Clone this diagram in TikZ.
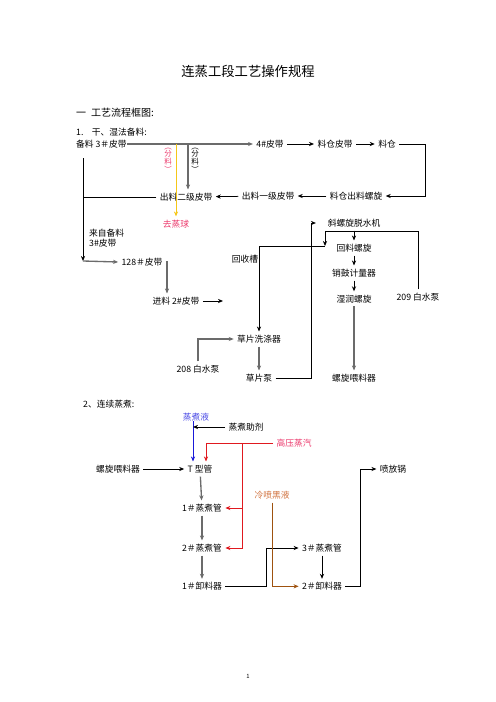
\documentclass[tikz,border=0pt]{standalone}
\usepackage{fontspec}
\setmainfont{Noto Sans CJK SC}
\usetikzlibrary{arrows.meta, positioning}

\begin{document}
\begin{tikzpicture}[x=1.2pt, y=-1.2pt, node distance=30pt, >={Stealth[length=6pt, width=5pt]}]

\definecolor{arrowcolor}{rgb}{0.42, 0.42, 0.42}
\definecolor{steamred}{rgb}{0.88, 0.1, 0.12}
\definecolor{pinktext}{rgb}{0.92, 0.22, 0.42}
\definecolor{splitgold}{rgb}{0.96, 0.78, 0.1}
\definecolor{liquorblue}{rgb}{0.1, 0.1, 0.85}
\definecolor{liquortext}{rgb}{0.3, 0.3, 0.9}
\definecolor{blackliq}{rgb}{0.62, 0.32, 0.06}
\definecolor{blacktext}{rgb}{0.82, 0.45, 0.25}

\tikzstyle{unit} = [inner sep=4pt, font=\fontsize{10.5pt}{12pt}\selectfont]
\tikzstyle{vtext} = [inner sep=0pt, align=center, font=\fontsize{9pt}{8pt}\selectfont]
\tikzstyle{arrow} = [->, line width=1.6pt, draw=arrowcolor]
\tikzstyle{link} = [->, line width=0.9pt, draw=black]
\tikzstyle{plain} = [line width=0.9pt, draw=black]

\useasboundingbox (0,0) rectangle (496,702);

% headings
\node[font=\fontsize{16pt}{19pt}\selectfont] (title) at (248,71) {连蒸工段工艺操作规程};
\node[anchor=west, inner sep=0pt, font=\fontsize{12pt}{14pt}\selectfont] (sec1) at (76,113) {一\hspace{6pt}工艺流程框图:};
\node[unit, anchor=west, inner sep=0pt] (sub1) at (76,132) {1.\hspace{10pt}干、湿法备料:};

% part 1: stock preparation
\node[unit, anchor=west, inner sep=0pt] (B3) at (76,144) {备料 3＃皮带};
\node[unit] (B4) at (270,144) {4\#皮带};
\node[unit] (LCPD) at (335,144) {料仓皮带};
\node[unit] (LC) at (387,144) {料仓};
\node[unit] (LCLX) at (356,196) {料仓出料螺旋};
\node[unit] (CL1) at (268,196) {出料一级皮带};
\node[unit] (CL2) at (186,197) {出料二级皮带};
\node[unit, text=pinktext] (QZQ) at (176,224) {去蒸球};
\node[vtext, text=pinktext] (FL1) at (168,160) {︵\\分\\料\\︶};
\node[vtext] (FL2) at (195,160) {︵\\分\\料\\︶};
\node[unit, align=left, anchor=west, inner sep=0pt] (LZ) at (89,238) {来自备料\\3\#皮带};
\node[unit] (P128) at (142,262) {128＃皮带};
\node[unit] (JL2) at (176,301) {进料 2\#皮带};
\node[unit] (HSC) at (245,259) {回收槽};

\node[unit] (XLX) at (354,223) {斜螺旋脱水机};
\node[unit, below of=XLX] (HLX) {回料螺旋};
\node[unit, below of=HLX] (XG) {销鼓计量器};
\node[unit, below of=XG, node distance=31pt] (SR) {湿润螺旋};
\node[unit, below of=SR, node distance=95pt] (LXWL) {螺旋喂料器};
\node[unit] (B209) at (418,297) {209 白水泵};

\node[unit] (CPXD) at (259,339) {草片洗涤器};
\node[unit] (B208) at (198,369) {208 白水泵};
\node[unit] (CPB) at (259,378) {草片泵};

\coordinate (dn) at (83,158);
\coordinate (cn) at (83,261);
\coordinate (jl2end) at (223,301);
\coordinate (ret) at (325,231);
\coordinate (rx) at (325,246);

\draw[arrow] (B3) -- (B4);
\draw[link] (B4) -- (LCPD);
\draw[link] (LCPD) -- (LC);
\draw[link] (LC.east) -- ++(26,0) |- (LCLX.east);
\draw[link] (LCLX) -- (CL1);
\draw[link] (CL1) -- (CL2);
\draw[plain] (CL2.west) -- (CL2.west -| dn);
\draw[link] (dn) -- (cn);
\draw[arrow] (cn) -- (P128.west);
\draw[->, line width=0.9pt, draw=splitgold] (QZQ.north |- B3) -- (QZQ.north);
\draw[arrow] ([xshift=14.4pt]QZQ.north |- B3) -- ([xshift=14.4pt]QZQ.north |- CL2.north);
\draw[arrow] (P128.east) -| ([xshift=-10.8pt]JL2.north);
\draw[link] (JL2.east) -- (jl2end);

\draw[link] (XLX) -- (HLX);
\draw[link] (HLX) -- (XG);
\draw[link] (XG) -- (SR);
\draw[arrow] (SR) -- (LXWL);
\draw[link] (B209.north) |- (ret) -- (rx);
\draw[link] (rx) -| (CPXD.north);
\draw[arrow] (B208.north) |- (CPXD.west);
\draw[arrow] (CPXD) -- (CPB);
\draw[link, shorten >=10pt] (CPB.east) -- ++(36,0) |- (XLX.west);

% part 2: continuous cooking
\node[anchor=west, inner sep=0pt, font=\fontsize{10.5pt}{12pt}\selectfont] (sec2) at (83,404) {2、连续蒸煮:};
\node[unit, text=liquortext] (ZZY) at (196,417) {蒸煮液};
\node[unit] (ZZZJ) at (246,427) {蒸煮助剂};
\node[unit, text=pinktext] (GYZQ) at (294,443) {高压蒸汽};
\node[unit] (TG) at (200,469) {T 型管};
\node[unit] (LXW2) at (118,469) {螺旋喂料器};
\node[unit] (PFG) at (393,469) {喷放锅};
\node[unit, text=blacktext] (LPHY) at (272,495) {冷喷黑液};

\node[unit] (ZG1) at (202,508) {1＃蒸煮管};
\node[unit, below of=ZG1, node distance=48pt] (ZG2) {2＃蒸煮管};
\node[unit, below of=ZG2, node distance=46pt] (XL1) {1＃卸料器};
\node[unit] (ZG3) at (322,548) {3＃蒸煮管};
\node[unit, below of=ZG3, node distance=46pt] (XL2) {2＃卸料器};

\coordinate (btop) at (193,421);
\coordinate (rtop) at (242,443);

\draw[->, line width=0.9pt, draw=liquorblue] (btop) -- (btop |- TG.north);
\draw[link] (ZZZJ.west) -- (ZZZJ.west -| btop);
\draw[->, line width=0.9pt, draw=steamred] (GYZQ.west) -| ([xshift=7.2pt]TG.north);
\draw[->, line width=0.9pt, draw=steamred] (rtop) |- (ZG2.east);
\draw[->, line width=0.9pt, draw=steamred] (rtop |- ZG1.east) -- (ZG1.east);
\draw[link] (LXW2) -- (TG);
\draw[arrow] (TG) -- (ZG1);
\draw[arrow] (ZG1) -- (ZG2);
\draw[arrow] (ZG2) -- (XL1);
\draw[link] (XL1.east) -- ++(41,0) |- (ZG3.west);
\draw[->, line width=0.9pt, draw=blackliq] (LPHY.south) |- (XL2.west);
\draw[link] (ZG3) -- (XL2);
\draw[link] (XL2.east) -- ++(15,0) |- (PFG.west);

\node[font=\fontsize{7pt}{8pt}\selectfont] (page) at (248,676) {1};

\end{tikzpicture}
\end{document}
